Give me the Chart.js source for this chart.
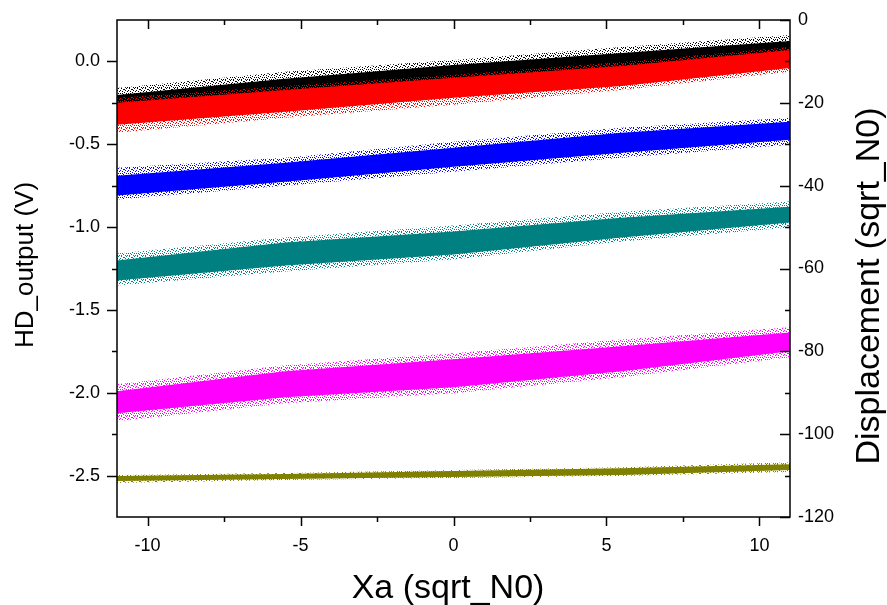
<!DOCTYPE html>
<html>
<head>
<meta charset="utf-8">
<title>HD output vs Xa</title>
<script src="https://cdn.jsdelivr.net/npm/chart.js@4.4.1/dist/chart.umd.min.js"></script>
<style>
  html, body { margin: 0; padding: 0; background: #fff; }
  #wrap { width: 887px; height: 605px; }
</style>
</head>
<body>
<div id="wrap"><canvas id="hdChart" width="887" height="605"></canvas></div>
<script>
// Sample positions along Xa where the band edges were taken
const xa = [-11, -5.5, 0, 5.5, 11];

// Each band: outer edge (sparse dots) and dense core, HD_output in volts
const blackTop       = [-0.160, -0.063,  0.009,  0.087,  0.160];
const blackBottom    = [-0.304, -0.202, -0.123, -0.051,  0.021];
const blackCoreTop   = [-0.202, -0.105, -0.021,  0.051,  0.123];
const blackCoreBot   = [-0.292, -0.184, -0.105, -0.033,  0.039];

const redTop         = [-0.220, -0.148, -0.081, -0.003,  0.087];
const redBottom      = [-0.431, -0.340, -0.262, -0.172, -0.063];
const redCoreTop     = [-0.250, -0.172, -0.099, -0.027,  0.069];
const redCoreBot     = [-0.383, -0.304, -0.220, -0.148, -0.039];

const blueTop        = [-0.642, -0.581, -0.485, -0.401, -0.340];
const blueBottom     = [-0.834, -0.750, -0.666, -0.581, -0.503];
const blueCoreTop    = [-0.690, -0.611, -0.521, -0.431, -0.364];
const blueCoreBot    = [-0.810, -0.726, -0.636, -0.551, -0.473];

const tealTop        = [-1.160, -1.063, -0.991, -0.907, -0.846];
const tealBottom     = [-1.352, -1.268, -1.196, -1.087, -1.003];
const tealCoreTop    = [-1.202, -1.093, -1.027, -0.943, -0.877];
const tealCoreBot    = [-1.322, -1.232, -1.166, -1.063, -0.973];

const magentaTop     = [-1.949, -1.834, -1.762, -1.678, -1.605];
const magentaBottom  = [-2.172, -2.063, -2.003, -1.907, -1.786];
const magentaCoreTop = [-1.991, -1.870, -1.798, -1.720, -1.636];
const magentaCoreBot = [-2.123, -2.027, -1.967, -1.870, -1.750];

const oliveTop       = [-2.497, -2.485, -2.467, -2.449, -2.419];
const oliveBottom    = [-2.545, -2.527, -2.515, -2.503, -2.479];
const oliveCoreTop   = [-2.503, -2.491, -2.473, -2.455, -2.431];
const oliveCoreBot   = [-2.533, -2.521, -2.509, -2.497, -2.467];

// Axis ticks
const xMajor = [-10, -5, 0, 5, 10];
const xMinor = [-7.5, -2.5, 2.5, 7.5];
const yMajor = [-2.5, -2, -1.5, -1, -0.5, 0];
const yMinor = [-2.25, -1.75, -1.25, -0.75, -0.25];
const dMajor = [-120, -100, -80, -60, -40, -20, 0];
const dMinor = [-110, -90, -70, -50, -30, -10];

const FONT = "'Liberation Sans', Arial, sans-serif";

function pts(ys) {
    return xa.map((x, i) => ({ x: x, y: ys[i] }));
}

// speckle tile (8x8, hand placed) so the loose edge of a band reads as points
const SPECKLE = [[1, 0], [6, 0], [3, 1], [0, 2], [5, 2], [2, 3], [7, 3], [4, 4],
                 [0, 5], [6, 5], [3, 6], [1, 7], [5, 7], [2, 5], [7, 7], [4, 1]];
function dots(rgb) {
    const c = document.createElement('canvas');
    c.width = 8; c.height = 8;
    const g = c.getContext('2d');
    g.fillStyle = 'rgb(' + rgb + ')';
    SPECKLE.forEach(p => g.fillRect(p[0], p[1], 1, 1));
    return g.createPattern(c, 'repeat');
}

// one band = two filled layers (speckled outer, solid core)
let layer = 40;
function band(rgb, top, bottom, coreTop, coreBot) {
    const common = { borderWidth: 0, pointRadius: 0, tension: 0 };
    const sets = [
        Object.assign({ data: pts(top), backgroundColor: dots(rgb), fill: '+1', order: layer }, common),
        Object.assign({ data: pts(bottom), fill: false, order: layer }, common),
        Object.assign({ data: pts(coreTop), backgroundColor: 'rgb(' + rgb + ')', fill: '+1', order: layer - 1 }, common),
        Object.assign({ data: pts(coreBot), fill: false, order: layer - 1 }, common)
    ];
    layer -= 2;
    return sets;
}

const datasets = [].concat(
    band('0,0,0', blackTop, blackBottom, blackCoreTop, blackCoreBot),
    band('255,0,0', redTop, redBottom, redCoreTop, redCoreBot),
    band('0,0,255', blueTop, blueBottom, blueCoreTop, blueCoreBot),
    band('0,128,128', tealTop, tealBottom, tealCoreTop, tealCoreBot),
    band('255,0,255', magentaTop, magentaBottom, magentaCoreTop, magentaCoreBot),
    band('128,128,0', oliveTop, oliveBottom, oliveCoreTop, oliveCoreBot)
);

// frame, inward/outward tick marks and the three axis titles
const axisDecor = {
    id: 'axisDecor',
    afterDraw(chart) {
        const ctx = chart.ctx;
        const a = chart.chartArea;
        const sx = chart.scales.x, sy = chart.scales.y, sd = chart.scales.y2;
        ctx.save();
        ctx.strokeStyle = '#000';
        ctx.lineWidth = 1.5;
        ctx.strokeRect(a.left, a.top, a.right - a.left, a.bottom - a.top);

        ctx.beginPath();
        xMajor.concat(xMinor).forEach(v => {
            const len = xMajor.includes(v) ? 9 : 5;
            const px = Math.round(sx.getPixelForValue(v)) + 0.5;
            ctx.moveTo(px, a.bottom); ctx.lineTo(px, a.bottom + len);
            ctx.moveTo(px, a.top); ctx.lineTo(px, a.top + len);
        });
        yMajor.concat(yMinor).forEach(v => {
            const len = yMajor.includes(v) ? 10 : 5;
            const py = Math.round(sy.getPixelForValue(v)) + 0.5;
            ctx.moveTo(a.left, py); ctx.lineTo(a.left - len, py);
        });
        dMajor.concat(dMinor).forEach(v => {
            const len = dMajor.includes(v) ? 10 : 5;
            const py = Math.round(sd.getPixelForValue(v)) + 0.5;
            ctx.moveTo(a.right, py); ctx.lineTo(a.right - len, py);
        });
        ctx.stroke();

        ctx.fillStyle = '#000';
        ctx.textAlign = 'center';
        ctx.textBaseline = 'alphabetic';

        ctx.font = '34px ' + FONT;
        ctx.fillText('Xa (sqrt_N0)', 448, 598);

        ctx.save();
        ctx.translate(33, 265);
        ctx.rotate(-Math.PI / 2);
        ctx.font = '26px ' + FONT;
        ctx.fillText('HD_output (V)', 0, 0);
        ctx.restore();

        ctx.save();
        ctx.translate(879, 286);
        ctx.rotate(-Math.PI / 2);
        ctx.font = '34px ' + FONT;
        ctx.fillText('Displacement (sqrt_N0)', 0, 0);
        ctx.restore();

        ctx.restore();
    }
};

function fixedTicks(list) {
    return s => { s.ticks = list.map(v => ({ value: v })); };
}

// pin the box sizes so the plot area sits at 117..790 x 20..517
function fitWidth(w) {
    return s => { s.width = w; s.paddingTop = 0; s.paddingBottom = 0; };
}

const noGrid = { display: false, drawTicks: false, tickLength: 0 };

new Chart(document.getElementById('hdChart'), {
    type: 'line',
    data: { datasets: datasets },
    options: {
        responsive: false,
        animation: false,
        layout: { padding: { top: 20, left: 0, right: 0, bottom: 0 } },
        plugins: { legend: { display: false }, tooltip: { enabled: false } },
        scales: {
            x: {
                type: 'linear', position: 'bottom', min: -11, max: 11,
                grid: noGrid, border: { display: false },
                afterBuildTicks: fixedTicks(xMajor),
                afterFit: s => { s.height = 88; s.paddingLeft = 0; s.paddingRight = 0; },
                ticks: {
                    padding: 18, color: '#000', maxRotation: 0, autoSkip: false,
                    font: { family: FONT, size: 18 },
                    callback: v => String(v)
                }
            },
            y: {
                type: 'linear', position: 'left', min: -2.75, max: 0.25,
                grid: noGrid, border: { display: false },
                afterBuildTicks: fixedTicks(yMajor),
                afterFit: fitWidth(117),
                ticks: {
                    padding: 17, color: '#000', autoSkip: false,
                    font: { family: FONT, size: 18 },
                    callback: v => v.toFixed(1)
                }
            },
            y2: {
                type: 'linear', position: 'right', min: -120, max: 0,
                grid: noGrid, border: { display: false },
                afterBuildTicks: fixedTicks(dMajor),
                afterFit: fitWidth(97),
                ticks: {
                    padding: 8, color: '#000', autoSkip: false,
                    font: { family: FONT, size: 18 },
                    callback: v => String(v)
                }
            }
        }
    },
    plugins: [axisDecor]
});
</script>
</body>
</html>
